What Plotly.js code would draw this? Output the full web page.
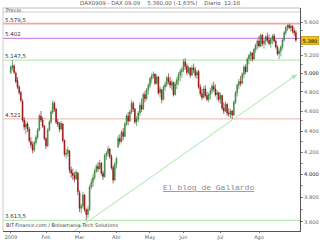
<!DOCTYPE html>
<html><head><meta charset="utf-8">
<script src="https://cdn.plot.ly/plotly-3.0.1.min.js"></script>
<style>html,body{margin:0;padding:0;background:#fff}#c{width:320px;height:240px}</style>
</head><body><div id="c"></div>
<script>
// trading-day index 0 = 2 Jan 2009
const opens = [5010,5060,5080,5000,4920,4850,4790,4700,4510,4440,4470,4420,4300,4270,4220,4290,4340,4410,4550,4510,4450,
4330,4260,4410,4490,4590,4680,4620,4490,4470,4420,4470,4310,4180,4190,4210,4040,4010,3990,3960,4010,
3840,3710,3730,3820,3700,3660,3700,3890,3930,3970,4030,4070,4050,4100,4010,3980,4170,4190,4230,4160,4060,3950,
4090,4250,4330,4300,4390,4350,4470,4550,4500,4590,4680,4620,4490,4520,4580,4660,4620,4770,4730,4820,
4870,4940,4970,4990,4890,4960,4790,4820,4720,4850,4880,4950,4910,4870,4900,4770,4880,4930,4980,5020,
5040,5130,5080,5010,5060,4980,5060,5040,4980,5020,4850,4780,4740,4830,4760,4720,4770,4810,4860,4830,4770,4790,
4720,4760,4630,4600,4670,4580,4570,4600,4560,4690,4790,4870,4910,4890,4990,5070,5020,5160,5200,5230,5160,5270,5320,
5370,5310,5440,5340,5370,5420,5380,5340,5390,5430,5370,5300,5220,5250,5300,5380,5470,5530,5560,5530,5550,5490,5470];
const highs = [5090,5147.5,5100,5020,4960,4870,4810,4720,4540,4500,4490,4440,4340,4300,4310,4360,4430,4570,4600,4540,4460,
4340,4430,4510,4610,4710,4700,4630,4520,4490,4500,4480,4320,4230,4250,4220,4070,4050,4020,4040,4020,
3860,3750,3850,3830,3710,3730,3910,3960,4000,4050,4090,4110,4130,4110,4030,4190,4210,4260,4240,4180,4080,4110,
4160,4360,4370,4410,4430,4490,4570,4590,4610,4710,4700,4630,4550,4600,4690,4730,4790,4810,4840,4890,
4960,5000,5020,5000,4990,4970,4860,4830,4870,4910,4970,5000,4960,4930,4910,4910,4960,5010,5050,5070,
5160,5170,5110,5090,5070,5090,5110,5070,5030,5040,4880,4830,4860,4870,4800,4790,4840,4890,4910,4880,4820,4800,
4790,4770,4690,4700,4680,4630,4620,4610,4710,4810,4890,4940,4970,5010,5090,5100,5180,5220,5250,5240,5290,5340,5390,
5430,5460,5450,5390,5440,5470,5450,5410,5450,5460,5390,5320,5280,5320,5400,5490,5550,5570,5579.5,5570,5560,5530,5500];
const lows = [4990,5030,4990,4890,4830,4770,4690,4490,4410,4370,4390,4290,4240,4190,4200,4270,4320,4400,4490,4430,4310,
4230,4250,4400,4470,4570,4590,4470,4440,4390,4410,4290,4160,4140,4160,4010,3970,3950,3930,3950,3820,
3680,3670,3710,3680,3613.5,3630,3690,3870,3890,3950,4010,4020,4040,3990,3950,3970,4130,4160,4140,4040,3920,3940,
4050,4240,4270,4290,4310,4340,4450,4460,4490,4570,4590,4470,4450,4490,4550,4590,4610,4690,4710,4770,
4840,4890,4940,4870,4880,4770,4740,4680,4710,4810,4850,4880,4840,4820,4750,4760,4830,4870,4910,4950,
5010,5040,4980,4990,4950,4970,5000,4950,4940,4830,4750,4710,4730,4740,4700,4690,4720,4780,4800,4750,4710,4690,
4670,4610,4570,4590,4550,4540,4530,4521,4550,4670,4750,4830,4860,4880,4950,4990,5010,5100,5140,5130,5150,5230,5270,
5290,5300,5310,5280,5320,5350,5320,5290,5330,5350,5280,5200,5160,5190,5270,5360,5440,5490,5510,5480,5460,5430,5360];
const closes = [5070,5090,5010,4910,4850,4790,4710,4510,4440,4470,4420,4310,4270,4220,4290,4340,4410,4550,4510,4450,4330,
4260,4410,4490,4590,4680,4620,4490,4470,4420,4480,4310,4180,4190,4220,4040,4010,3990,3960,4020,3850,
3710,3730,3820,3700,3660,3700,3890,3930,3970,4030,4070,4050,4100,4010,3980,4170,4190,4230,4160,4060,3950,4090,
4140,4330,4300,4390,4350,4470,4550,4500,4590,4680,4620,4490,4520,4580,4660,4620,4770,4730,4820,4870,
4940,4970,4990,4890,4960,4790,4830,4720,4850,4880,4950,4910,4870,4900,4770,4880,4930,4980,5020,5040,
5130,5080,5010,5060,4980,5060,5040,4980,5010,4850,4780,4740,4830,4760,4720,4770,4810,4860,4830,4770,4790,4720,
4760,4630,4600,4670,4580,4570,4600,4560,4690,4790,4870,4910,4890,4990,5070,5020,5160,5200,5230,5160,5270,5320,5370,
5310,5440,5340,5370,5420,5380,5340,5390,5430,5370,5300,5220,5250,5300,5380,5470,5530,5560,5530,5550,5490,5470,5380];
const monthIdx = [0,21,41,63,83,103,125,148];
const monthLabels = ['2009','Feb','Mar','Abr','May','Jun','Jul','Ago'];
const yTickVals = [3600,3800,4000,4200,4400,4600,4800,5000,5200,5600];
const yTickText = ['3.600','3.800','<span style="color:#111">4.000</span>','4.200','4.400','4.600','4.800','<span style="color:#111">5.000</span>','5.200','5.600'];
const yMinorVals = [3700,3900,4100,4300,4500,4700,4900,5100,5300,5500];
const levelVals = [5579.5,5402,5147.5,4521,3613.5];
const levelLabels = ['5.579,5','5.402','5.147,5','4.521','3.613,5'];
const levelColors = ['#f2a4a4','#c98ae0','#a6e6a6','#f2b0b0','#a6e6a6'];
const levelWidths = [1.6,1.3,1,1,1];
const trendIdx = [38,170.5];
const trendVals = [3530,4985];
const lastPrice = 5380;
const lastLabel = '5.380';
const titleText = 'DAX0909 - DAX 09.09    5.380,00 (-1,63%)    Diario  12:18';

const idx = closes.map((_, i) => i);
const F = 'DejaVu Sans, Verdana, sans-serif';

const trace = {
  type: 'candlestick', x: idx, open: opens, high: highs, low: lows, close: closes,
  width: 0.75, whiskerwidth: 0,
  increasing: {line: {color: '#2f6f2f', width: 0.6}, fillcolor: '#44b044'},
  decreasing: {line: {color: '#7a0000', width: 0.6}, fillcolor: '#e01515'},
  hoverinfo: 'skip', showlegend: false
};

const shapes = [];
levelVals.forEach((v, i) => shapes.push({type: 'line', xref: 'paper', x0: 0, x1: 1, yref: 'y', y0: v, y1: v,
  line: {color: levelColors[i], width: levelWidths[i]}, layer: 'below'}));
shapes.push({type: 'line', xref: 'x', yref: 'y', x0: trendIdx[0], x1: trendIdx[1], y0: trendVals[0], y1: trendVals[1],
  line: {color: '#a6e6a6', width: 1}, layer: 'below'});
shapes.push({type: 'line', xref: 'paper', yref: 'paper', x0: 0, x1: 1, y0: 1, y1: 1, line: {color: '#bbbbbb', width: 1}});
shapes.push({type: 'line', xref: 'paper', yref: 'paper', x0: 0, x1: 1, y0: 0.982, y1: 0.982, line: {color: '#cccccc', width: 1}});
shapes.push({type: 'line', xref: 'paper', yref: 'paper', x0: 0, x1: 0, y0: 0, y1: 1, line: {color: '#cccccc', width: 1}});

const annotations = [];
levelVals.forEach((v, i) => annotations.push({xref: 'paper', x: 0, xanchor: 'left', xshift: 1,
  yref: 'y', y: Math.log10(v), yanchor: 'bottom', text: levelLabels[i], showarrow: false,
  font: {family: F, size: 5.5, color: '#333'}, borderpad: 0}));
annotations.push({xref: 'paper', yref: 'y', x: 1, xanchor: 'left', xshift: 1, y: Math.log10(lastPrice), yanchor: 'middle',
  text: lastLabel, showarrow: false, bgcolor: '#f0c020', bordercolor: '#a08000', borderwidth: 0.5, borderpad: 1,
  font: {family: F, size: 5.2, color: '#000'}});
annotations.push({xref: 'x', yref: 'y', x: trendIdx[1], y: Math.log10(trendVals[1]), ax: -9, ay: 6, axref: 'pixel', ayref: 'pixel',
  text: '', showarrow: true, arrowhead: 2, arrowsize: 1, arrowwidth: 1, arrowcolor: '#a6e6a6'});
annotations.push({xref: 'paper', yref: 'paper', x: 0.5286, y: 1.0235, xanchor: 'center', yanchor: 'middle',
  text: titleText, showarrow: false, font: {family: F, size: 5.5, color: '#555'}});
annotations.push({xref: 'paper', yref: 'paper', x: 0, xshift: 1, y: 0.991, xanchor: 'left', yanchor: 'middle',
  text: 'Precio', showarrow: false, font: {family: F, size: 5, color: '#444'}});
annotations.push({xref: 'paper', yref: 'paper', x: 0, xshift: 1, y: 0.027, xanchor: 'left', yanchor: 'middle',
  text: 'BIT-Finance.com / Bolsamania Tech Solutions', showarrow: false, font: {family: F, size: 5, color: '#444'}});
annotations.push({xref: 'paper', yref: 'paper', x: 0.692, y: 0.197, xanchor: 'center', yanchor: 'middle',
  text: '<u>El blog de Gallardo</u>', showarrow: false, font: {family: 'Liberation Mono, DejaVu Sans Mono, monospace', size: 8, color: '#8a8a8a'}});

const layout = {
  width: 320, height: 240, margin: {l: 3, r: 20, t: 8, b: 9},
  paper_bgcolor: '#fff', plot_bgcolor: '#fff', showlegend: false,
  xaxis: {range: [-4.65, 172.45], tickmode: 'array', tickvals: monthIdx, ticktext: monthLabels,
    ticks: 'outside', ticklen: 1, tickcolor: '#777', showline: true, linecolor: '#555', linewidth: 1,
    showgrid: false, zeroline: false, rangeslider: {visible: false}, ticklabelstandoff: 0,
    tickfont: {family: F, size: 5, color: '#666'}},
  yaxis: {type: 'log', side: 'right', range: [Math.log10(3529), Math.log10(5776)], tickmode: 'array',
    tickvals: yTickVals, ticktext: yTickText, ticks: 'outside', ticklen: 2, tickcolor: '#777',
    showline: true, linecolor: '#555', linewidth: 1, showgrid: false, zeroline: false,
    tickfont: {family: F, size: 5.2, color: '#666'},
    minor: {tickvals: yMinorVals, ticks: 'outside', ticklen: 1.5, tickcolor: '#999', showgrid: false}},
  shapes: shapes, annotations: annotations
};
Plotly.newPlot('c', [trace], layout, {staticPlot: true, displayModeBar: false});
</script></body></html>
